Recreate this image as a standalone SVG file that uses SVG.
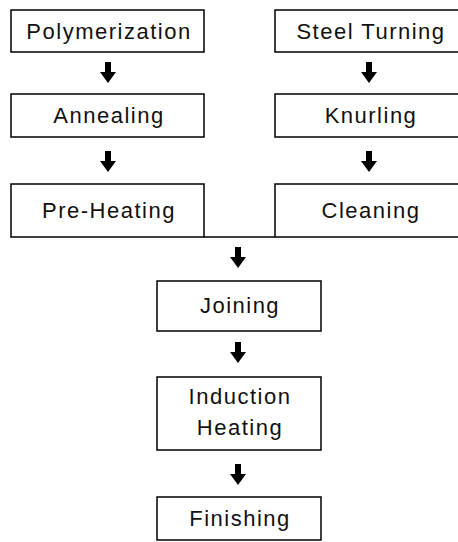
<svg xmlns="http://www.w3.org/2000/svg" width="458" height="542" viewBox="0 0 458 542">
<style>
.box{fill:#fff;stroke:#000;stroke-width:1.5}
.t{font-family:"Liberation Sans",Arial,sans-serif;font-size:22px;letter-spacing:1.5px;text-anchor:middle;fill:#111}
.line{stroke:#000;stroke-width:1.5;fill:none}
</style>
<defs>
<path id="arr" d="M-3,0 H3 V10 H8 L0,21 L-8,10 H-3 Z" fill="#000"/>
</defs>
<g id="connectors">
<line class="line" x1="204" y1="237" x2="275" y2="237"/>
<use href="#arr" x="108" y="62"/>
<use href="#arr" x="108" y="151"/>
<use href="#arr" x="369" y="62"/>
<use href="#arr" x="369" y="151"/>
<use href="#arr" x="238" y="247"/>
<use href="#arr" x="238" y="342"/>
<use href="#arr" x="238" y="464"/>
</g>
<g id="polymerization"><rect class="box" x="11" y="10" width="193" height="42"/><text class="t" x="109" y="39">Polymerization</text></g>
<g id="annealing"><rect class="box" x="11" y="94" width="193" height="43"/><text class="t" x="109" y="123">Annealing</text></g>
<g id="preheating"><rect class="box" x="11" y="184" width="193" height="53"/><text class="t" x="109" y="218">Pre-Heating</text></g>
<g id="steelturning"><rect class="box" x="275" y="10" width="192" height="42"/><text class="t" x="371" y="39">Steel Turning</text></g>
<g id="knurling"><rect class="box" x="275" y="94" width="192" height="43"/><text class="t" x="371" y="123">Knurling</text></g>
<g id="cleaning"><rect class="box" x="275" y="184" width="192" height="53"/><text class="t" x="371" y="218">Cleaning</text></g>
<g id="joining"><rect class="box" x="157" y="281" width="164" height="50"/><text class="t" x="240" y="313">Joining</text></g>
<g id="induction"><rect class="box" x="157" y="377" width="164" height="73"/><text class="t" x="240" y="404">Induction</text><text class="t" x="240" y="435">Heating</text></g>
<g id="finishing"><rect class="box" x="157" y="497" width="164" height="43"/><text class="t" x="240" y="526">Finishing</text></g>
</svg>
